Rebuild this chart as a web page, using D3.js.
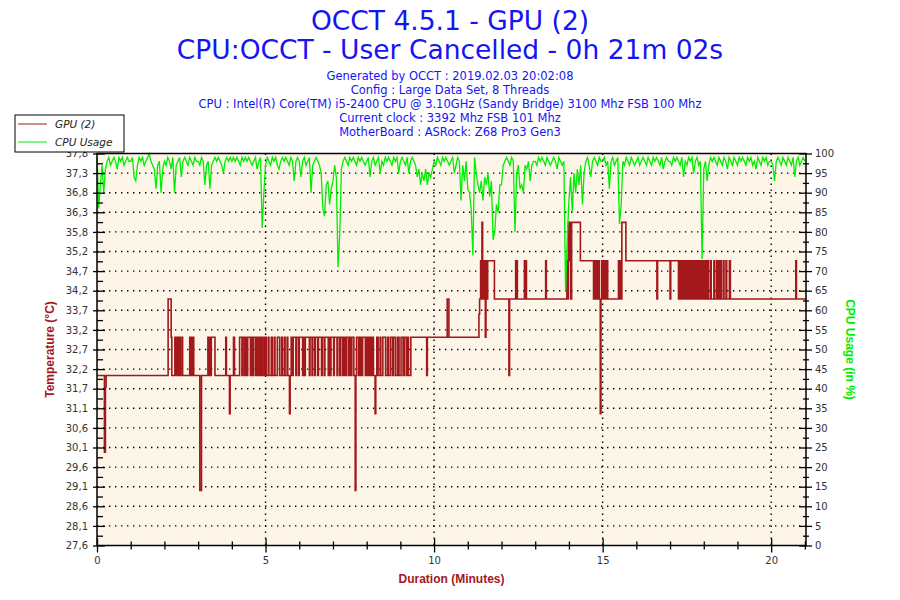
<!DOCTYPE html>
<html>
<head>
<meta charset="utf-8">
<script src="https://cdn.jsdelivr.net/npm/d3@7"></script>
<style>
  body { margin: 0; background: #fff; }
</style>
</head>
<body>
<div id="chart"></div>
<script>
const titleLines = ["OCCT 4.5.1 - GPU (2)", "CPU:OCCT - User Cancelled - 0h 21m 02s"];
const infoLines = [
  "Generated by OCCT : 2019.02.03 20:02:08",
  "Config : Large Data Set, 8 Threads",
  "CPU : Intel(R) Core(TM) i5-2400 CPU @ 3.10GHz (Sandy Bridge) 3100 Mhz FSB 100 Mhz",
  "Current clock : 3392 Mhz FSB 101 Mhz",
  "MotherBoard : ASRock: Z68 Pro3 Gen3"
];
const seriesNames = ["GPU (2)", "CPU Usage"];

// left axis: 21 labels, evenly spaced from tempMin by tempStep
const tempMin = 27.56;
const tempStep = 0.512;
const tempTickLabels = ["27,6", "28,1", "28,6", "29,1", "29,6", "30,1", "30,6", "31,1", "31,7", "32,2", "32,7",
  "33,2", "33,7", "34,2", "34,7", "35,2", "35,8", "36,3", "36,8", "37,3", "37,8"];
const cpuTicks = [0, 5, 10, 15, 20, 25, 30, 35, 40, 45, 50, 55, 60, 65, 70, 75, 80, 85, 90, 95, 100];
const timeTicks = [0, 5, 10, 15, 20];
const duration = 21.033; // 0h 21m 02s

// GPU temperature, [minute, °C] change points
const gpuTemp = [
  [0, 32], [0.22, 30], [0.25, 31.7], [0.27, 32],
  [2.11, 34], [2.2, 33], [2.22, 32],
  [2.31, 33], [2.34, 32], [2.36, 33], [2.40, 32], [2.44, 33], [2.47, 32], [2.52, 33], [2.54, 32],
  [2.75, 33], [2.77, 32], [2.81, 33], [2.83, 32], [2.86, 33], [2.87, 32],
  [3.05, 29], [3.1, 32],
  [3.29, 33], [3.31, 32], [3.34, 33], [3.36, 32], [3.39, 33], [3.50, 32],
  [3.82, 33], [3.84, 32], [3.93, 31], [3.95, 32],
  [4.05, 33], [4.08, 32],
  [4.23, 33], [4.30, 32], [4.33, 33], [4.38, 32], [4.42, 33], [4.44, 32], [4.47, 33], [4.55, 32], [4.58, 33], [4.60, 32],
  [4.64, 33], [4.70, 32], [4.74, 33], [4.76, 32], [4.80, 33], [4.83, 32], [4.87, 33], [4.90, 32], [4.95, 33], [4.97, 32],
  [5.00, 33], [5.02, 32],
  [5.08, 33], [5.10, 32], [5.17, 33], [5.20, 32], [5.26, 33], [5.28, 32], [5.35, 33], [5.42, 32], [5.48, 33], [5.50, 32],
  [5.56, 33], [5.58, 32], [5.64, 33], [5.66, 32], [5.71, 31], [5.73, 32], [5.76, 33], [5.79, 32],
  [5.82, 33], [5.90, 32], [5.92, 33], [5.98, 32], [6.00, 33], [6.10, 32], [6.12, 33], [6.16, 32], [6.18, 33], [6.30, 32],
  [6.32, 33], [6.38, 32], [6.40, 33], [6.46, 32], [6.48, 33], [6.55, 32], [6.57, 33], [6.66, 32], [6.68, 33], [6.74, 32],
  [6.76, 33], [6.86, 32], [6.88, 33], [6.92, 32], [6.94, 33], [7.02, 32], [7.04, 33], [7.12, 32], [7.14, 33], [7.20, 32],
  [7.22, 33], [7.28, 32],
  [7.32, 33], [7.36, 32], [7.40, 33], [7.46, 32], [7.50, 33], [7.52, 32], [7.56, 33], [7.62, 32], [7.66, 29], [7.68, 32],
  [7.70, 33], [7.76, 32], [7.80, 33], [7.84, 32], [7.88, 33], [7.96, 32], [8.00, 33], [8.04, 32], [8.08, 33], [8.12, 32],
  [8.16, 33], [8.20, 32], [8.25, 31], [8.27, 32], [8.30, 33], [8.34, 32], [8.40, 33], [8.42, 32], [8.48, 33], [8.56, 32],
  [8.62, 33], [8.64, 32], [8.70, 33], [8.76, 32], [8.80, 33], [8.86, 32], [8.92, 33], [8.96, 32], [9.02, 33], [9.08, 32],
  [9.12, 33], [9.18, 32], [9.22, 33], [9.24, 32],
  [9.31, 33], [9.78, 32], [9.80, 33],
  [10.39, 34], [10.44, 33],
  [11.33, 33.6], [11.35, 34], [11.38, 35], [11.40, 34], [11.42, 36], [11.44, 35], [11.46, 34], [11.49, 35], [11.52, 33],
  [11.54, 35], [11.57, 34], [11.59, 35], [11.79, 34],
  [12.22, 32], [12.24, 34], [12.42, 35], [12.44, 34], [12.45, 35], [12.47, 34], [12.68, 35], [12.70, 34], [12.72, 35],
  [12.74, 34], [13.31, 35], [13.33, 34],
  [13.94, 35], [13.96, 34], [13.98, 36], [14.00, 35], [14.03, 36], [14.05, 34], [14.08, 36], [14.34, 35],
  [14.73, 34], [14.76, 35], [14.78, 34], [14.80, 35], [14.82, 34], [14.84, 35], [14.86, 34], [14.88, 35], [14.90, 34],
  [14.93, 31], [14.95, 34], [14.97, 35], [15.00, 34], [15.03, 35], [15.05, 34], [15.08, 35], [15.10, 34], [15.13, 35],
  [15.15, 34],
  [15.47, 35], [15.50, 34], [15.52, 35], [15.55, 34], [15.57, 36], [15.69, 35],
  [16.61, 34], [16.63, 35], [17.00, 34], [17.02, 35],
  [17.25, 34], [17.28, 35], [17.30, 34], [17.33, 35], [17.36, 34], [17.38, 35], [17.42, 34], [17.44, 35], [17.47, 34],
  [17.50, 35], [17.52, 34], [17.56, 35], [17.58, 34], [17.61, 35], [17.64, 34], [17.67, 35], [17.69, 34], [17.72, 35],
  [17.75, 34], [17.78, 35], [17.80, 34], [17.83, 35], [17.86, 34], [17.88, 35], [17.91, 34], [17.94, 35], [17.97, 34],
  [18.00, 35], [18.03, 34], [18.06, 35], [18.08, 34], [18.12, 35], [18.14, 34], [18.20, 35], [18.22, 34], [18.30, 35],
  [18.32, 34], [18.38, 35], [18.41, 34], [18.44, 35], [18.46, 34], [18.50, 35], [18.52, 34], [18.58, 35], [18.60, 34],
  [18.66, 35], [18.68, 34], [18.76, 35], [18.79, 34],
  [20.73, 35], [20.75, 34], [21.03, 34]
];

// CPU usage in %, one reading every cpuInterval minutes (a row per minute)
const cpuInterval = 0.05;
const cpuUsage = [
  99, 86, 92, 97, 90, 96, 98, 99, 97, 98, 99, 98, 96, 99, 98, 99, 97, 98, 99, 98,
  98, 99, 94, 93, 97, 99, 98, 99, 97, 98, 99, 100, 98, 97, 96, 91, 97, 98, 90, 96,
  98, 97, 99, 98, 96, 99, 90, 97, 98, 99, 94, 98, 99, 98, 97, 99, 98, 97, 99, 98,
  98, 97, 99, 98, 92, 97, 98, 91, 97, 98, 99, 98, 99, 98, 97, 95, 98, 99, 98, 99,
  98, 99, 98, 99, 98, 97, 99, 98, 99, 98, 99, 98, 97, 98, 99, 96, 98, 99, 81, 90,
  97, 99, 98, 97, 99, 98, 99, 97, 96, 98, 99, 98, 99, 98, 97, 99, 98, 93, 98, 99,
  98, 94, 98, 99, 97, 98, 99, 90, 97, 98, 99, 98, 97, 95, 86, 84, 92, 93, 87, 91,
  93, 97, 94, 71, 79, 96, 98, 99, 98, 97, 99, 98, 99, 98, 97, 99, 98, 99, 98, 97,
  98, 99, 94, 98, 99, 97, 98, 99, 95, 98, 97, 99, 98, 99, 98, 97, 99, 98, 99, 95,
  98, 99, 98, 97, 99, 95, 98, 99, 98, 97, 94, 96, 92, 95, 93, 96, 92, 95, 94, 96,
  98, 97, 99, 98, 97, 99, 98, 99, 98, 97, 98, 99, 95, 97, 99, 98, 88, 97, 93, 98,
  91, 90, 86, 74, 99, 95, 92, 90, 93, 88, 94, 92, 95, 89, 93, 78, 80, 87, 85, 92,
  92, 97, 98, 99, 98, 97, 99, 98, 80, 95, 97, 91, 92, 90, 97, 96, 98, 93, 97, 98,
  98, 97, 99, 98, 99, 98, 97, 99, 98, 97, 98, 99, 98, 96, 99, 98, 97, 98, 65, 78,
  88, 94, 85, 95, 90, 96, 92, 97, 87, 95, 98, 99, 97, 94, 98, 99, 98, 97, 99, 98,
  98, 99, 97, 98, 91, 98, 99, 97, 98, 99, 82, 87, 98, 97, 99, 98, 97, 99, 98, 97,
  98, 99, 97, 98, 99, 98, 97, 99, 98, 97, 99, 98, 99, 98, 97, 99, 96, 98, 99, 98,
  98, 97, 99, 98, 99, 98, 97, 99, 94, 98, 97, 99, 98, 99, 95, 98, 99, 97, 98, 73,
  96, 98, 93, 97, 99, 98, 99, 98, 97, 99, 98, 97, 99, 98, 96, 99, 98, 97, 99, 98,
  97, 99, 98, 99, 98, 97, 99, 98, 99, 97, 98, 96, 99, 98, 97, 99, 98, 99, 97, 98,
  98, 97, 93, 98, 99, 98, 97, 99, 98, 97, 99, 98, 97, 99, 94, 98, 99, 97, 98, 99, 98
];

const width = 900;
const height = 600;
const plot = { left: 97, right: 806, top: 153.5, bottom: 545.5 };
const tempColor = "#a3181b";
const cpuColor = "#00ee00";
const blue = "#1414f5";
const sans = "'Liberation Sans', Arial, sans-serif";
const tickFont = "'DejaVu Sans', Verdana, sans-serif";

const svg = d3.select("#chart").append("svg")
  .attr("width", width)
  .attr("height", height)
  .style("font-family", sans);

svg.append("rect").attr("width", width).attr("height", height).attr("fill", "#fff");

const x = d3.scaleLinear().domain([0, duration]).range([plot.left, plot.right]);
const yT = d3.scaleLinear().domain([tempMin, tempMin + 20 * tempStep]).range([plot.bottom, plot.top]);
const yC = d3.scaleLinear().domain([0, 100]).range([plot.bottom, plot.top]);

const tempTicks = tempTickLabels.map((d, i) => tempMin + i * tempStep);
const tempMinor = tempTicks.slice(1).map(d => d - tempStep / 2);
const cpuMinor = cpuTicks.slice(1).map(d => d - 2.5);
const timeMinor = d3.range(0, 22).filter(d => d % 5 !== 0);

// titles
svg.append("g").selectAll("text").data(titleLines).join("text")
  .attr("x", width / 2)
  .attr("y", (d, i) => 30 + i * 29)
  .attr("text-anchor", "middle")
  .attr("fill", blue)
  .style("font-family", tickFont)
  .style("font-size", "26.5px")
  .text(d => d);

svg.append("g").selectAll("text").data(infoLines).join("text")
  .attr("x", width / 2)
  .attr("y", (d, i) => 80 + i * 14)
  .attr("text-anchor", "middle")
  .attr("fill", blue)
  .style("font-family", tickFont)
  .style("font-size", "11.5px")
  .text(d => d);

// plot background and grid
svg.append("rect")
  .attr("x", plot.left).attr("y", plot.top)
  .attr("width", plot.right - plot.left).attr("height", plot.bottom - plot.top)
  .attr("fill", "#fdf6e8");

const grid = svg.append("g").attr("stroke", "#000").attr("stroke-width", 1.4).attr("stroke-dasharray", "1.4,4.6");
grid.selectAll(".h").data(cpuTicks.slice(1, -1)).join("line").attr("class", "h")
  .attr("x1", plot.left).attr("x2", plot.right)
  .attr("y1", d => yC(d)).attr("y2", d => yC(d));
grid.selectAll(".v").data(timeTicks.slice(1)).join("line").attr("class", "v")
  .attr("x1", d => x(d)).attr("x2", d => x(d))
  .attr("y1", plot.top).attr("y2", plot.bottom);

// series
const gpuLine = d3.line().x(d => x(d[0])).y(d => yT(d[1])).curve(d3.curveStepAfter);
svg.append("path").datum(gpuTemp)
  .attr("fill", "none").attr("stroke", tempColor).attr("stroke-width", 1.6)
  .attr("d", gpuLine);

const cpuLine = d3.line().x((d, i) => x(i * cpuInterval)).y(d => yC(d));
svg.append("path").datum(cpuUsage)
  .attr("fill", "none").attr("stroke", cpuColor).attr("stroke-width", 1.3)
  .attr("d", cpuLine);

// frame
svg.append("rect")
  .attr("x", plot.left).attr("y", plot.top)
  .attr("width", plot.right - plot.left).attr("height", plot.bottom - plot.top)
  .attr("fill", "none").attr("stroke", "#000").attr("stroke-width", 1.5);

function styleAxis(g) {
  g.select(".domain").remove();
  g.selectAll(".tick line").attr("stroke", "#000").attr("stroke-width", 1.3);
  g.selectAll(".tick text").attr("fill", "#333").style("font-family", tickFont).style("font-size", "10px");
}

// left axis
svg.append("g").attr("transform", `translate(${plot.left + 8},0)`)
  .call(d3.axisLeft(yT).tickValues(tempTicks).tickSize(12).tickPadding(5).tickFormat((d, i) => tempTickLabels[i]))
  .call(styleAxis);
svg.append("g").attr("transform", `translate(${plot.left + 6},0)`)
  .call(d3.axisLeft(yT).tickValues(tempMinor).tickSize(6).tickFormat(""))
  .call(styleAxis);

// right axis
svg.append("g").attr("transform", `translate(${plot.right - 7},0)`)
  .call(d3.axisRight(yC).tickValues(cpuTicks).tickSize(13).tickPadding(3))
  .call(styleAxis);
svg.append("g").attr("transform", `translate(${plot.right - 3},0)`)
  .call(d3.axisRight(yC).tickValues(cpuMinor).tickSize(6).tickFormat(""))
  .call(styleAxis);

// bottom axis
svg.append("g").attr("transform", `translate(0,${plot.bottom - 7})`)
  .call(d3.axisBottom(x).tickValues(timeTicks).tickSize(14).tickPadding(4))
  .call(styleAxis);
svg.append("g").attr("transform", `translate(0,${plot.bottom - 4})`)
  .call(d3.axisBottom(x).tickValues(timeMinor).tickSize(8).tickFormat(""))
  .call(styleAxis);

// axis titles
svg.append("text")
  .attr("transform", `translate(54,${(plot.top + plot.bottom) / 2}) rotate(-90)`)
  .attr("text-anchor", "middle")
  .attr("fill", tempColor)
  .style("font-weight", "bold").style("font-size", "12px")
  .text("Temperature (°C)");

svg.append("text")
  .attr("transform", `translate(846,${(plot.top + plot.bottom) / 2}) rotate(90)`)
  .attr("text-anchor", "middle")
  .attr("fill", cpuColor)
  .style("font-weight", "bold").style("font-size", "12px")
  .text("CPU Usage (in %)");

svg.append("text")
  .attr("x", (plot.left + plot.right) / 2)
  .attr("y", 583)
  .attr("text-anchor", "middle")
  .attr("fill", tempColor)
  .style("font-weight", "bold").style("font-size", "12px")
  .text("Duration (Minutes)");

// legend
const legend = svg.append("g").attr("transform", "translate(15,115)");
legend.append("rect").attr("width", 109).attr("height", 37)
  .attr("fill", "#fff").attr("stroke", "#000").attr("stroke-width", 1);
const items = legend.selectAll("g").data(seriesNames).join("g")
  .attr("transform", (d, i) => `translate(0,${9 + i * 18})`);
items.append("line").attr("x1", 3).attr("x2", 32)
  .attr("stroke", (d, i) => i === 0 ? tempColor : cpuColor).attr("stroke-width", 1);
items.append("text").attr("x", 40).attr("y", 4)
  .attr("fill", "#222")
  .style("font-family", tickFont).style("font-style", "italic").style("font-size", "10.5px")
  .text(d => d);
</script>
</body>
</html>
